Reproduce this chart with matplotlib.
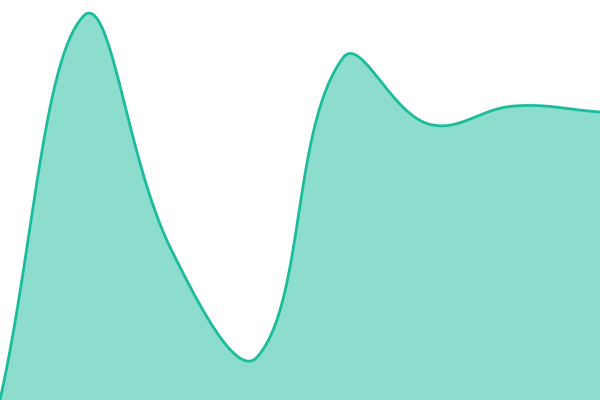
import numpy as np
import matplotlib
matplotlib.use("Agg")
import matplotlib.pyplot as plt

# Data (values on a 0-400 scale, index positions 0..7)
labels = list(range(8))
values = [0, 386, 150, 43, 342, 276, 294, 288]

W, H = 600, 400
y_min, y_max = 0, 400
tension = 0.4

def chartjs_spline(xs, ys, sx, sy, t):
    # compute bezier control points like Chart.js splineCurve, in pixel space
    n = len(xs)
    px = np.array(xs) * sx
    py = np.array(ys) * sy
    cps = []
    for i in range(n):
        p0 = (px[max(i - 1, 0)], py[max(i - 1, 0)])
        p1 = (px[i], py[i])
        p2 = (px[min(i + 1, n - 1)], py[min(i + 1, n - 1)])
        d01 = np.hypot(p1[0] - p0[0], p1[1] - p0[1])
        d12 = np.hypot(p2[0] - p1[0], p2[1] - p1[1])
        s01 = d01 / (d01 + d12) if d01 + d12 else 0
        s12 = d12 / (d01 + d12) if d01 + d12 else 0
        fa = t * s01
        fb = t * s12
        prev = (p1[0] - fa * (p2[0] - p0[0]), p1[1] - fa * (p2[1] - p0[1]))
        nxt = (p1[0] + fb * (p2[0] - p0[0]), p1[1] + fb * (p2[1] - p0[1]))
        cps.append((prev, nxt))
    outx, outy = [], []
    tt = np.linspace(0, 1, 60)
    for i in range(n - 1):
        P0 = np.array([px[i], py[i]])
        P1 = np.array(cps[i][1])
        P2 = np.array(cps[i + 1][0])
        P3 = np.array([px[i + 1], py[i + 1]])
        P1[1] = np.clip(P1[1], y_min * sy, y_max * sy)
        P2[1] = np.clip(P2[1], y_min * sy, y_max * sy)
        b = ((1 - tt) ** 3)[:, None] * P0 + (3 * (1 - tt) ** 2 * tt)[:, None] * P1 \
            + (3 * (1 - tt) * tt ** 2)[:, None] * P2 + (tt ** 3)[:, None] * P3
        outx.extend(b[:, 0] / sx)
        outy.extend(b[:, 1] / sy)
    return np.array(outx), np.array(outy)

sx = W / (len(labels) - 1)
sy = H / (y_max - y_min)
cx, cy = chartjs_spline(labels, values, sx, sy, tension)

fig = plt.figure(figsize=(6, 4), dpi=100)
ax = fig.add_axes([0, 0, 1, 1])
ax.fill_between(cx, cy, y_min, color="#1abc9c", alpha=0.5, linewidth=0)
ax.plot(cx, cy, color="#1abc9c", linewidth=2.0, solid_capstyle="round")
ax.set_xlim(0, len(labels) - 1)
ax.set_ylim(y_min, y_max)
ax.axis("off")
fig.savefig("out.png", dpi=100)
